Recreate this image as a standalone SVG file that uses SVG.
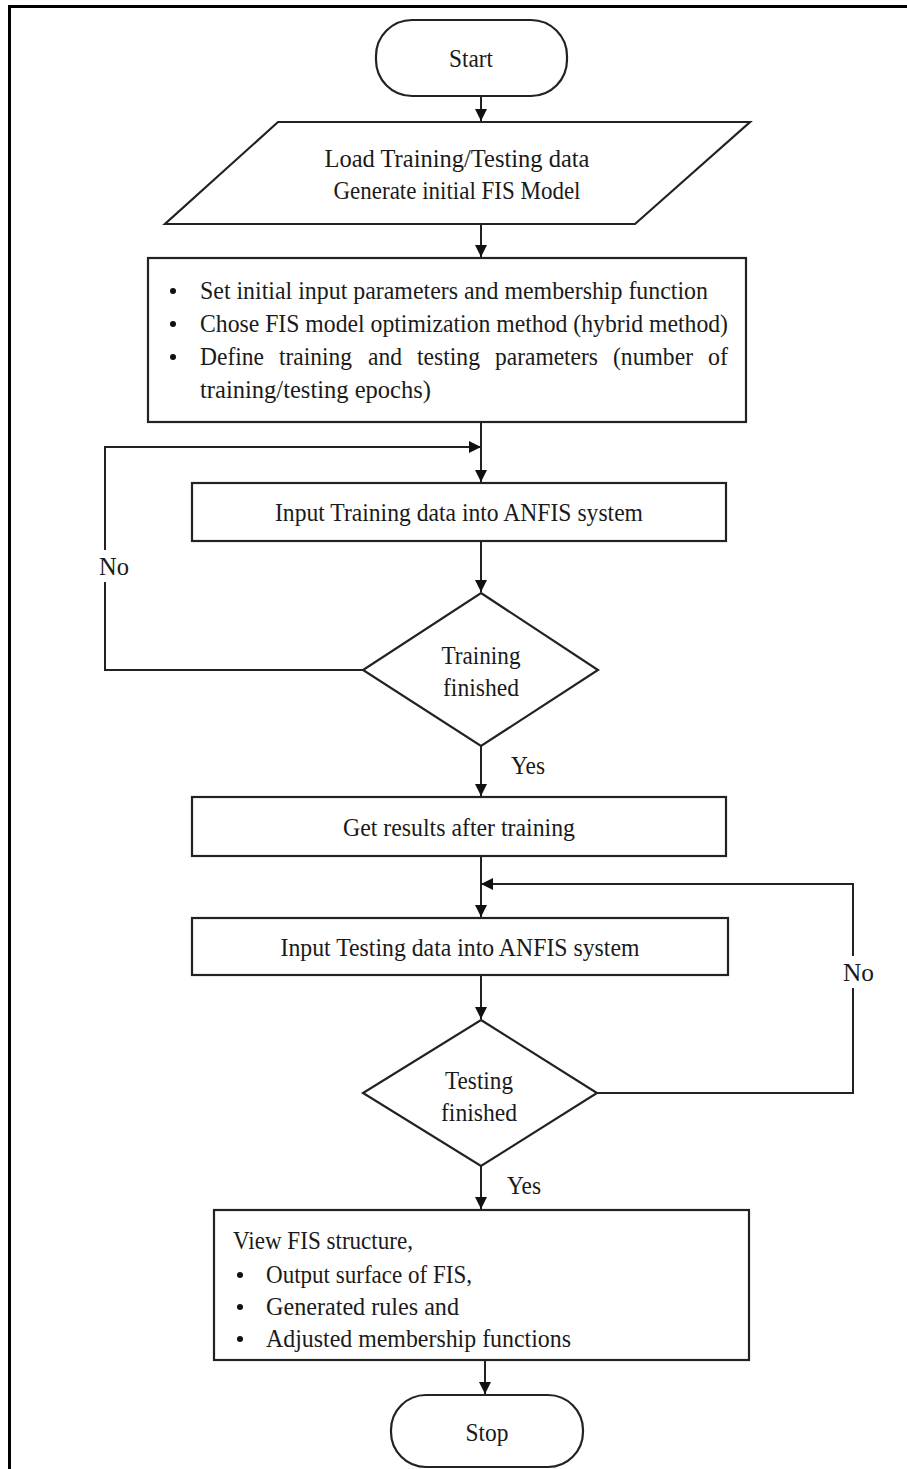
<svg xmlns="http://www.w3.org/2000/svg" width="907" height="1469" viewBox="0 0 907 1469">
<defs>
<style>
.s{fill:#fff;stroke:#222;stroke-width:2.2}
.c{fill:none;stroke:#222;stroke-width:2}
.t{font-family:"Liberation Serif",serif;font-size:25px;fill:#1a1a1a}
.m{text-anchor:middle}
</style>
<marker id="b" viewBox="0 0 10 10" refX="10" refY="5" markerWidth="14" markerHeight="12" markerUnits="userSpaceOnUse" orient="auto">
<path d="M0,0 L10,5 L0,10 z" fill="#111"/>
</marker>
</defs>
<rect width="907" height="1469" fill="#fff"/>
<g id="frame">
<line x1="8" y1="6.5" x2="907" y2="6.5" stroke="#000" stroke-width="3"/>
<line x1="9.5" y1="5" x2="9.5" y2="1469" stroke="#000" stroke-width="3"/>
</g>
<g id="connectors">
<line class="c" x1="481" y1="96" x2="481" y2="121" marker-end="url(#b)"/>
<line class="c" x1="481" y1="224" x2="481" y2="257" marker-end="url(#b)"/>
<line class="c" x1="481" y1="422" x2="481" y2="482" marker-end="url(#b)"/>
<polyline class="c" points="363,670 105,670 105,447 481,447" marker-end="url(#b)"/>
<line class="c" x1="481" y1="541" x2="481" y2="592" marker-end="url(#b)"/>
<line class="c" x1="481" y1="746" x2="481" y2="796" marker-end="url(#b)"/>
<line class="c" x1="481" y1="856" x2="481" y2="917" marker-end="url(#b)"/>
<polyline class="c" points="597,1093 853,1093 853,884 481,884" marker-end="url(#b)"/>
<line class="c" x1="481" y1="975" x2="481" y2="1019" marker-end="url(#b)"/>
<line class="c" x1="481" y1="1166" x2="481" y2="1209" marker-end="url(#b)"/>
<line class="c" x1="485" y1="1360" x2="485" y2="1394" marker-end="url(#b)"/>
<rect x="96" y="550" width="38" height="32" fill="#fff"/>
<text class="t" x="99" y="575" textLength="30" lengthAdjust="spacingAndGlyphs">No</text>
<rect x="838" y="956" width="40" height="32" fill="#fff"/>
<text class="t" x="843" y="981" textLength="31" lengthAdjust="spacingAndGlyphs">No</text>
<text class="t" x="511" y="774" textLength="34" lengthAdjust="spacingAndGlyphs">Yes</text>
<text class="t" x="507" y="1194" textLength="34" lengthAdjust="spacingAndGlyphs">Yes</text>
</g>
<g id="start">
<rect class="s" x="376" y="20" width="191" height="76" rx="36" ry="36"/>
<text class="t m" x="471" y="67" textLength="44" lengthAdjust="spacingAndGlyphs">Start</text>
</g>
<g id="load">
<polygon class="s" points="278,122 750,122 635,224 165,224"/>
<text class="t m" x="457" y="167" textLength="265" lengthAdjust="spacingAndGlyphs">Load Training/Testing data</text>
<text class="t m" x="457" y="199" textLength="247" lengthAdjust="spacingAndGlyphs">Generate initial FIS Model</text>
</g>
<g id="setup">
<rect class="s" x="148" y="258" width="598" height="164"/>
<circle cx="173" cy="291" r="3" fill="#111"/>
<circle cx="173" cy="324" r="3" fill="#111"/>
<circle cx="173" cy="357" r="3" fill="#111"/>
<text class="t" x="200" y="299" textLength="508" lengthAdjust="spacingAndGlyphs">Set initial input parameters and membership function</text>
<text class="t" x="200" y="332" textLength="528" lengthAdjust="spacingAndGlyphs">Chose FIS model optimization method (hybrid method)</text>
<text class="t" x="200" y="365" textLength="64" lengthAdjust="spacingAndGlyphs">Define</text>
<text class="t" x="279" y="365" textLength="73" lengthAdjust="spacingAndGlyphs">training</text>
<text class="t" x="368" y="365" textLength="34" lengthAdjust="spacingAndGlyphs">and</text>
<text class="t" x="417" y="365" textLength="63" lengthAdjust="spacingAndGlyphs">testing</text>
<text class="t" x="495" y="365" textLength="103" lengthAdjust="spacingAndGlyphs">parameters</text>
<text class="t" x="613" y="365" textLength="80" lengthAdjust="spacingAndGlyphs">(number</text>
<text class="t" x="708" y="365" textLength="20" lengthAdjust="spacingAndGlyphs">of</text>
<text class="t" x="200" y="398" textLength="231" lengthAdjust="spacingAndGlyphs">training/testing epochs)</text>
</g>
<g id="input-training">
<rect class="s" x="192" y="483" width="534" height="58"/>
<text class="t m" x="459" y="521" textLength="368" lengthAdjust="spacingAndGlyphs">Input Training data into ANFIS system</text>
</g>
<g id="training-finished">
<polygon class="s" points="481,593 598,670 481,746 363,670"/>
<text class="t m" x="481" y="664" textLength="79" lengthAdjust="spacingAndGlyphs">Training</text>
<text class="t m" x="481" y="696" textLength="76" lengthAdjust="spacingAndGlyphs">finished</text>
</g>
<g id="get-results">
<rect class="s" x="192" y="797" width="534" height="59"/>
<text class="t m" x="459" y="836" textLength="232" lengthAdjust="spacingAndGlyphs">Get results after training</text>
</g>
<g id="input-testing">
<rect class="s" x="192" y="918" width="536" height="57"/>
<text class="t m" x="460" y="956" textLength="359" lengthAdjust="spacingAndGlyphs">Input Testing data into ANFIS system</text>
</g>
<g id="testing-finished">
<polygon class="s" points="481,1020 597,1093 481,1166 363,1093"/>
<text class="t m" x="479" y="1089" textLength="68" lengthAdjust="spacingAndGlyphs">Testing</text>
<text class="t m" x="479" y="1121" textLength="76" lengthAdjust="spacingAndGlyphs">finished</text>
</g>
<g id="view">
<rect class="s" x="214" y="1210" width="535" height="150"/>
<text class="t" x="233" y="1249" textLength="180" lengthAdjust="spacingAndGlyphs">View FIS structure,</text>
<circle cx="240" cy="1275" r="3" fill="#111"/>
<circle cx="240" cy="1307" r="3" fill="#111"/>
<circle cx="240" cy="1339" r="3" fill="#111"/>
<text class="t" x="266" y="1283" textLength="206" lengthAdjust="spacingAndGlyphs">Output surface of FIS,</text>
<text class="t" x="266" y="1315" textLength="193" lengthAdjust="spacingAndGlyphs">Generated rules and</text>
<text class="t" x="266" y="1347" textLength="305" lengthAdjust="spacingAndGlyphs">Adjusted membership functions</text>
</g>
<g id="stop">
<rect class="s" x="391" y="1395" width="192" height="72" rx="35" ry="35"/>
<text class="t m" x="487" y="1441" textLength="43" lengthAdjust="spacingAndGlyphs">Stop</text>
</g>
</svg>
